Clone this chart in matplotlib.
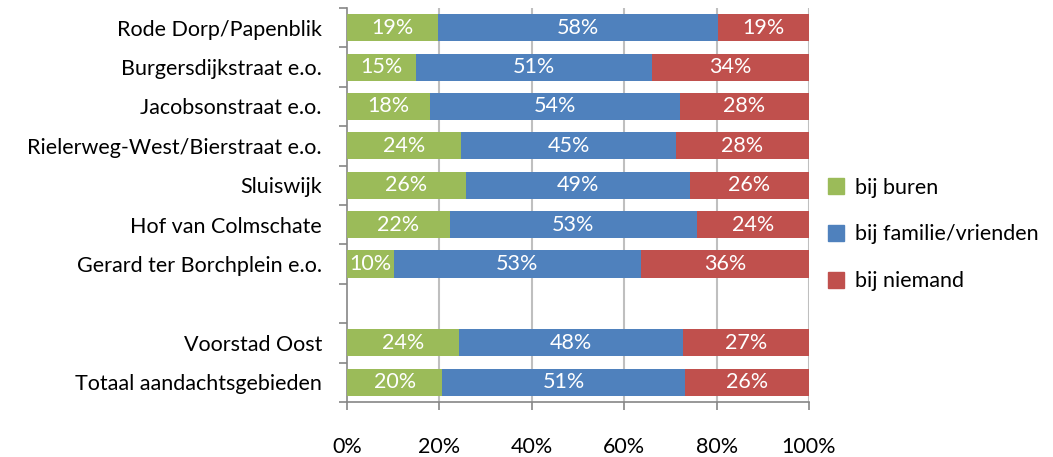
import matplotlib
matplotlib.use("Agg")
import matplotlib.pyplot as plt
import numpy as np

plt.rcParams['font.family'] = ['Lato', 'DejaVu Sans']

categories = ["Rode Dorp/Papenblik", "Burgersdijkstraat e.o.", "Jacobsonstraat e.o.",
              "Rielerweg-West/Bierstraat e.o.", "Sluiswijk", "Hof van Colmschate",
              "Gerard ter Borchplein e.o.", "", "Voorstad Oost", "Totaal aandachtsgebieden"]
buren    = [19, 15, 18, 24, 26, 22, 10, None, 24, 20]
familie  = [58, 51, 54, 45, 49, 53, 53, None, 48, 51]
niemand  = [19, 34, 28, 28, 26, 24, 36, None, 27, 26]
series_names = ["bij buren", "bij familie/vrienden", "bij niemand"]
colors = ["#9BBB59", "#4F81BD", "#C0504D"]
xticks = [0, 20, 40, 60, 80, 100]

fig = plt.figure(figsize=(10.53, 4.57), dpi=100)
ax = fig.add_axes([0.3295, 0.1204, 0.7683 - 0.3295, 0.9825 - 0.1204])

y = np.arange(len(categories))
fs = 15.5
for i in range(len(categories)):
    if buren[i] is None:
        continue
    vals = [buren[i], familie[i], niemand[i]]
    tot = sum(vals)
    left = 0.0
    for j, v in enumerate(vals):
        w = v / tot * 100
        ax.barh(y[i], w, left=left, height=0.69, color=colors[j], zorder=3)
        ax.text(left + w / 2, y[i], f"{v}%", ha='center', va='center',
                color='white', fontsize=fs, zorder=4)
        left += w

handles = [plt.Rectangle((0, 0), 1, 1, color=c) for c in colors]

ax.set_xlim(0, 100)
ax.set_ylim(len(categories) - 0.5, -0.5)
ax.set_xticks(xticks)
ax.set_xticklabels([f"{t}%" for t in xticks], fontsize=fs)
ax.set_yticks(y)
ax.set_yticklabels(categories, fontsize=fs)
ax.set_yticks(np.arange(-0.5, len(categories) + 0.5, 1), minor=True)
ax.tick_params(axis='y', which='major', length=0, pad=18)
ax.tick_params(axis='y', which='minor', length=6, color='#868686', width=1.2)
ax.tick_params(axis='x', length=6, color='#868686', width=1.2, pad=19)
for x in xticks[1:]:
    ax.axvline(x, color='#BFBFBF', lw=1.5, zorder=1)
for s in ['top', 'right']:
    ax.spines[s].set_visible(False)
for s in ['left', 'bottom']:
    ax.spines[s].set_color('#868686')
    ax.spines[s].set_linewidth(1.2)

fig.legend(handles, series_names, loc='center left', bbox_to_anchor=(0.768, 0.487),
           frameon=False, fontsize=fs, handlelength=0.75, handleheight=0.75,
           labelspacing=1.25, handletextpad=0.5)

fig.savefig("out.png", dpi=100)
